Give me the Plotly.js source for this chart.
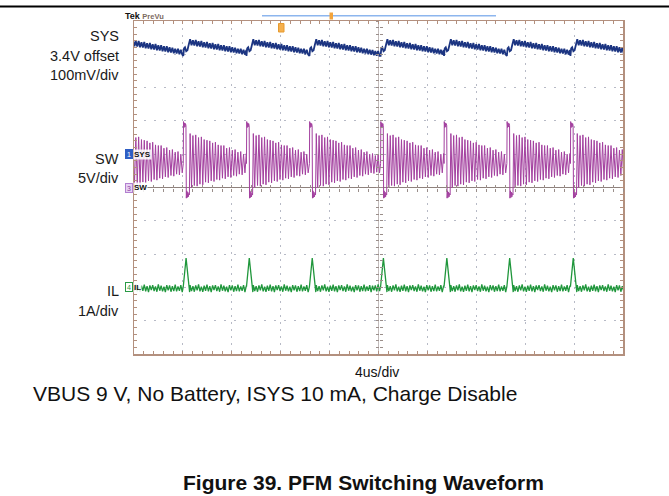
<!DOCTYPE html>
<html>
<head>
<meta charset="utf-8">
<script src="https://cdn.plot.ly/plotly-3.0.1.min.js"></script>
<style>
  html, body { margin: 0; padding: 0; background: #ffffff; }
  #chart { width: 669px; height: 496px; }
</style>
</head>
<body>
<div id="chart"></div>
<script>
// ---------------- data ----------------
// time in microseconds relative to the trigger (screen centre), 4 us/div
const pulseStartsUs = [-21.1, -15.97, -10.80, -5.65, 0.17, 5.36, 10.50, 15.70];

// SW node (V), 5 V/div, ground at screen centre
const swHeadT = [0, 0.02, 0.06, 0.10, 0.14, 0.18, 0.22, 0.25, 0.29, 0.33, 0.37, 0.41, 0.45, 0.50];
const swHeadV = [3.6, 9.9, 9.0, 9.7, 9.1, 9.6, 9.3, -1.6, -0.5, -1.5, -0.7, -1.4, -0.9, -1.1];
const swRingV = [8.1, 0.0, 7.8, 0.3, 7.9, 0.2, 7.5, 0.5, 7.6, 0.4, 7.2, 0.8, 7.1, 0.7, 7.0, 1.0,
                 6.7, 0.9, 6.8, 1.2, 6.4, 1.1, 6.3, 1.4, 6.3, 1.3, 5.9, 1.6, 6.0, 1.5, 5.6, 1.8,
                 5.7, 1.7, 5.3, 2.0, 5.4, 1.9, 5.0, 2.2, 5.1, 2.1, 4.8, 2.3, 4.9, 2.2, 4.6, 2.5,
                 4.7, 2.4, 4.5, 2.6, 4.6, 2.5, 4.4, 2.6];

// SYS (V), 100 mV/div, 3.4 V offset
const sysHeadT = [0, 0.06, 0.14, 0.24, 0.34, 0.44];
const sysHeadV = [3.695, 3.718, 3.721, 3.709, 3.712, 3.728];
const sysRingV = [3.745, 3.727, 3.742, 3.726, 3.743, 3.724, 3.739, 3.723, 3.740, 3.721, 3.736, 3.720,
                  3.737, 3.718, 3.733, 3.717, 3.734, 3.715, 3.730, 3.714, 3.731, 3.712, 3.727, 3.711,
                  3.727, 3.709, 3.724, 3.708, 3.724, 3.706, 3.721, 3.705, 3.720, 3.703, 3.717, 3.702,
                  3.717, 3.700, 3.714, 3.699, 3.713, 3.697, 3.710, 3.696, 3.710, 3.695, 3.707, 3.694,
                  3.707, 3.693, 3.705, 3.692, 3.704, 3.691, 3.702, 3.690];

// IL (A), 1 A/div
const ilHeadT = [0, 0.23, 0.52];
const ilHeadV = [0.02, 0.88, -0.14];
const ilRingV = [0.07, -0.11, 0.04, -0.13, 0.06, -0.09, 0.09, -0.12, 0.02, -0.13, 0.05, -0.10,
                 0.08, -0.12, 0.04, -0.14, 0.06, -0.08, 0.07, -0.11, 0.03, -0.13, 0.09, -0.10,
                 0.05, -0.12, 0.02, -0.14, 0.07, -0.09, 0.06, -0.13, 0.04, -0.11, 0.08, -0.12,
                 0.03, -0.10, 0.07, -0.14, 0.05, -0.09, 0.06, -0.12, 0.09, -0.11, 0.02, -0.13,
                 0.06, -0.10, 0.04, -0.12, 0.07, -0.09, 0.05, -0.12];

const RING_START_US = 0.56;
const RING_STEP_US = 0.115;
const X_RANGE = [-20, 20];

const leftLabels = [
  { text: 'SYS', ypx: 36 }, { text: '3.4V offset', ypx: 55.5 }, { text: '100mV/div', ypx: 75 },
  { text: 'SW', ypx: 159 }, { text: '5V/div', ypx: 178 },
  { text: 'IL', ypx: 291 }, { text: '1A/div', ypx: 311 }
];

// ---------------- assemble sampled records ----------------
function buildSeries(headT, headV, ringV) {
  const t = [], v = [];
  for (let p = 0; p < pulseStartsUs.length; p++) {
    const t0 = pulseStartsUs[p];
    const tEnd = p + 1 < pulseStartsUs.length ? pulseStartsUs[p + 1] : X_RANGE[1] + 0.5;
    for (let k = 0; k < headT.length; k++) {
      if (t0 + headT[k] < tEnd) { t.push(t0 + headT[k]); v.push(headV[k]); }
    }
    for (let k = 0; k < ringV.length; k++) {
      const tk = t0 + RING_START_US + k * RING_STEP_US;
      if (tk >= tEnd) break;
      t.push(tk); v.push(ringV[k]);
    }
  }
  return { t, v };
}
const sw = buildSeries(swHeadT, swHeadV, swRingV);
const sys = buildSeries(sysHeadT, sysHeadV, sysRingV);
const il = buildSeries(ilHeadT, ilHeadV, ilRingV);

// ---------------- layout geometry ----------------
const W = 669, H = 496;
const M = { l: 134, r: 46, t: 21, b: 142 };
const PW = W - M.l - M.r, PH = H - M.t - M.b;
const px2x = px => (px - M.l) / PW;
const py2y = py => (H - M.b - py) / PH;

const FONT = 'Arial, "Liberation Sans", sans-serif';
const BORDER = '#b3907e';
const GRID = '#b7bac6';

const traces = [
  { x: sys.t, y: sys.v, xaxis: 'x', yaxis: 'y2', type: 'scatter', mode: 'lines',
    line: { color: '#1c3582', width: 1.8 }, hoverinfo: 'skip', showlegend: false },
  { x: sw.t, y: sw.v, xaxis: 'x', yaxis: 'y', type: 'scatter', mode: 'lines',
    line: { color: '#a3409f', width: 1 }, hoverinfo: 'skip', showlegend: false },
  { x: il.t, y: il.v, xaxis: 'x', yaxis: 'y3', type: 'scatter', mode: 'lines',
    line: { color: '#20973c', width: 1.3 }, hoverinfo: 'skip', showlegend: false },
  // empty traces so that the centre tick axes get drawn
  { x: [], y: [], xaxis: 'x2', yaxis: 'y', showlegend: false, hoverinfo: 'skip' },
  { x: [], y: [], xaxis: 'x3', yaxis: 'y', showlegend: false, hoverinfo: 'skip' },
  { x: [], y: [], xaxis: 'x', yaxis: 'y4', showlegend: false, hoverinfo: 'skip' },
  { x: [], y: [], xaxis: 'x', yaxis: 'y5', showlegend: false, hoverinfo: 'skip' }
];

const hidden = { showgrid: false, zeroline: false, showticklabels: false, showline: false, ticks: '' };
const centreTickX = side => ({
  overlaying: 'x', anchor: 'free', position: 0.5, range: X_RANGE, showgrid: false, zeroline: false,
  showticklabels: false, showline: false, ticks: side, ticklen: 3, tickcolor: '#9a8e8a', tickwidth: 1,
  tick0: -20, dtick: 4, minor: { dtick: 0.8, ticks: side, ticklen: 3, tickcolor: '#9a8e8a', showgrid: false }
});
const centreTickY = side => ({
  overlaying: 'y', anchor: 'free', position: 0.5, range: [-25, 25], showgrid: false, zeroline: false,
  showticklabels: false, showline: false, ticks: side, ticklen: 3, tickcolor: '#9a8e8a', tickwidth: 1,
  tick0: -25, dtick: 5, minor: { dtick: 1, ticks: side, ticklen: 3, tickcolor: '#9a8e8a', showgrid: false }
});

const annotations = [];
leftLabels.forEach(l => annotations.push({
  text: l.text, xref: 'paper', yref: 'paper', x: px2x(121), y: py2y(l.ypx),
  xanchor: 'right', yanchor: 'middle', showarrow: false, font: { family: FONT, size: 14.5, color: '#1a1a1a' }
}));
// channel markers
const markers = [
  { num: '1', name: 'SYS', yref: 'y2', y: 3.4, box: '#2f5ec4', border: '#2f5ec4', numColor: '#ffffff' },
  { num: '3', name: 'SW', yref: 'y', y: 0, box: '#e6d2f2', border: '#b27fd0', numColor: '#8a3fa8' },
  { num: '4', name: 'IL', yref: 'y3', y: 0, box: '#ffffff', border: '#2a9a45', numColor: '#2a9a45' }
];
markers.forEach(m => {
  annotations.push({ text: m.num, xref: 'paper', yref: m.yref, x: px2x(128.5), y: m.y,
    xanchor: 'center', yanchor: 'middle', showarrow: false, width: 6, height: 8, borderpad: 0,
    bgcolor: m.box, bordercolor: m.border, borderwidth: 1, font: { family: FONT, size: 7, color: m.numColor } });
  annotations.push({ text: '<b>' + m.name + '</b>', xref: 'paper', yref: m.yref, x: px2x(133), y: m.y,
    xanchor: 'left', yanchor: 'middle', showarrow: false, bgcolor: 'rgba(255,255,255,0.85)', borderpad: 0,
    font: { family: FONT, size: 8, color: '#111111' } });
});
annotations.push({ text: '<b>Tek</b> <span style="font-size:7.5px;color:#7b6a60"><b>PreVu</b></span>',
  xref: 'paper', yref: 'paper', x: px2x(123), y: py2y(15.5), xanchor: 'left', yanchor: 'middle',
  showarrow: false, font: { family: FONT, size: 9, color: '#111111' } });
annotations.push({ text: '4us/div', xref: 'paper', yref: 'paper', x: px2x(377), y: py2y(371.5),
  xanchor: 'center', yanchor: 'middle', showarrow: false, font: { family: FONT, size: 14, color: '#111111' } });
annotations.push({ text: 'VBUS 9 V, No Battery, ISYS 10 mA, Charge Disable', xref: 'paper', yref: 'paper',
  x: px2x(31), y: py2y(393.5), xanchor: 'left', yanchor: 'middle', showarrow: false,
  font: { family: FONT, size: 21, color: '#111111' } });
annotations.push({ text: '<b>Figure 39. PFM Switching Waveform</b>', xref: 'paper', yref: 'paper',
  x: px2x(363), y: py2y(482), xanchor: 'center', yanchor: 'middle', showarrow: false,
  font: { family: FONT, size: 21, color: '#111111' } });

const shapes = [
  // rule at page top
  { type: 'line', xref: 'paper', yref: 'paper', x0: px2x(0), x1: px2x(669), y0: py2y(6.5), y1: py2y(6.5),
    line: { color: '#000000', width: 2 } },
  // record-view bar and its position marker
  { type: 'line', xref: 'paper', yref: 'paper', x0: px2x(262), x1: px2x(496), y0: py2y(15.7), y1: py2y(15.7),
    line: { color: '#8db6ee', width: 1.5 } },
  { type: 'rect', xref: 'paper', yref: 'paper', x0: px2x(329.5), x1: px2x(333), y0: py2y(19.5), y1: py2y(12.5),
    fillcolor: '#f3a43c', line: { width: 0 } },
  // trigger position marker
  { type: 'rect', xref: 'paper', yref: 'paper', x0: px2x(278.5), x1: px2x(284), y0: py2y(32), y1: py2y(23.5),
    fillcolor: '#f5b04e', line: { color: '#e79a2e', width: 1 } }
];

const layout = {
  width: W, height: H, margin: M, paper_bgcolor: '#ffffff', plot_bgcolor: '#ffffff',
  showlegend: false, hovermode: false,
  xaxis: {
    range: X_RANGE, tick0: -20, dtick: 4, showgrid: true, gridcolor: GRID, gridwidth: 1, griddash: '2px,5px',
    zeroline: true, zerolinecolor: '#c2bbbb', zerolinewidth: 1,
    showticklabels: false, ticks: 'inside', ticklen: 3, tickcolor: BORDER, tickwidth: 1,
    showline: true, linecolor: BORDER, linewidth: 1.5, mirror: 'ticks',
    minor: { dtick: 0.8, ticks: 'inside', ticklen: 3, tickcolor: BORDER, showgrid: false }
  },
  yaxis: {
    range: [-25, 25], tick0: -25, dtick: 5, showgrid: true, gridcolor: GRID, gridwidth: 1, griddash: '2px,8px',
    zeroline: true, zerolinecolor: '#8e817c', zerolinewidth: 1,
    showticklabels: false, ticks: 'inside', ticklen: 3, tickcolor: BORDER, tickwidth: 1,
    showline: true, linecolor: BORDER, linewidth: 1.5, mirror: 'ticks',
    minor: { dtick: 1, ticks: 'inside', ticklen: 3, tickcolor: BORDER, showgrid: false }
  },
  yaxis2: Object.assign({ overlaying: 'y', range: [2.8, 3.8] }, hidden),
  yaxis3: Object.assign({ overlaying: 'y', range: [-2, 8] }, hidden),
  xaxis2: centreTickX('inside'),
  xaxis3: centreTickX('outside'),
  yaxis4: centreTickY('inside'),
  yaxis5: centreTickY('outside'),
  annotations, shapes
};

Plotly.newPlot('chart', traces, layout, { staticPlot: true, displayModeBar: false });
</script>
</body>
</html>
